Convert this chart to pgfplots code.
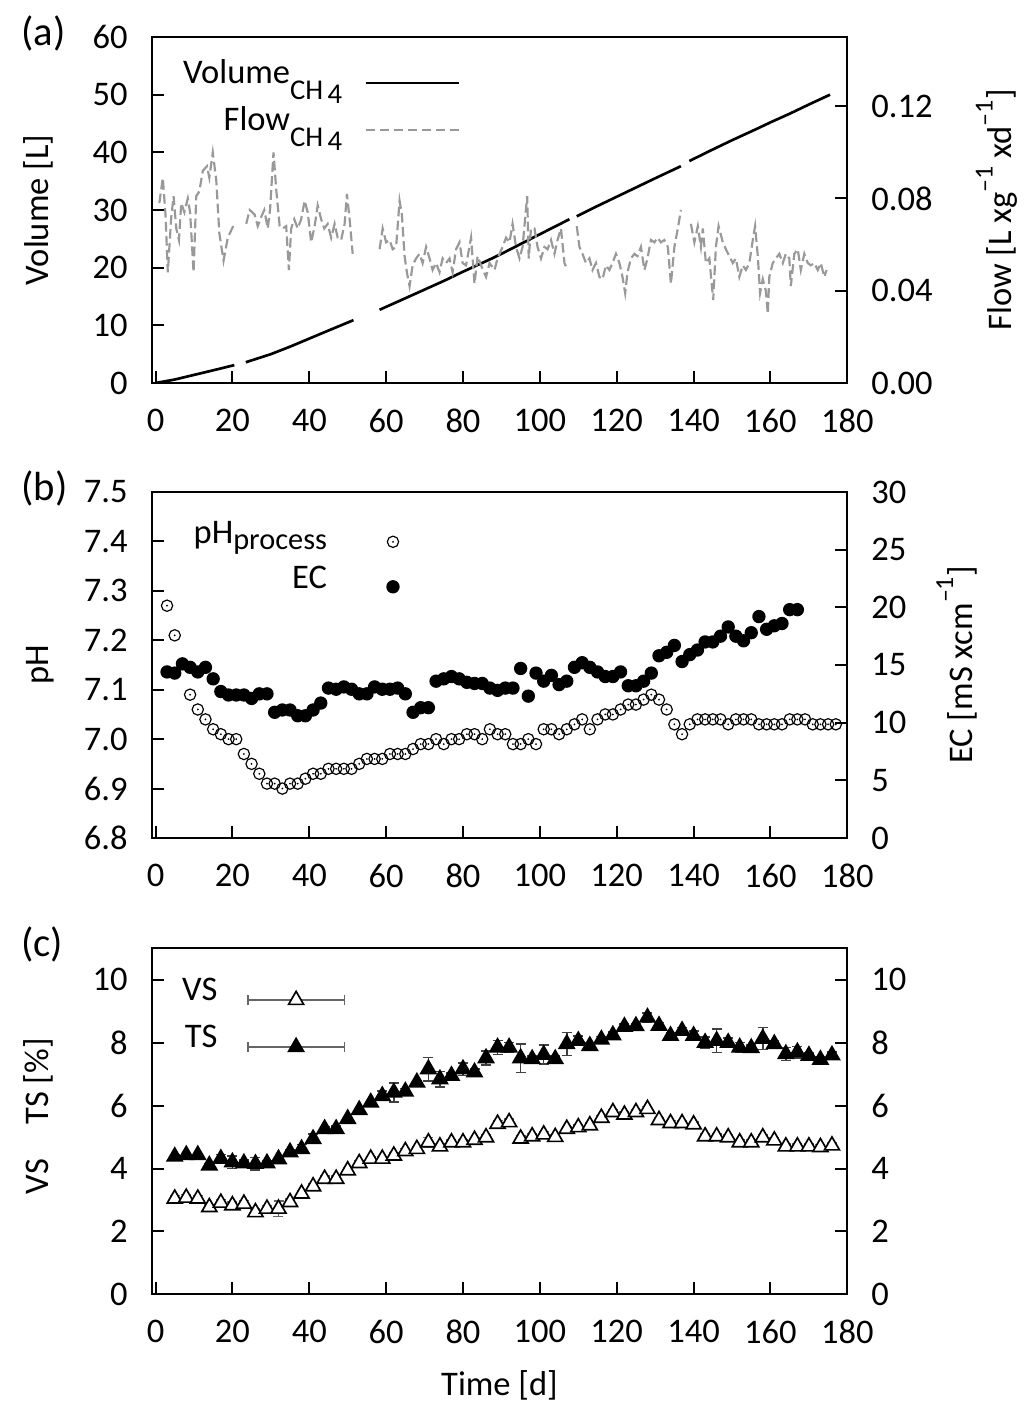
\documentclass[border=0pt]{standalone}
\usepackage{fontspec}
\setmainfont{Carlito}
\usepackage{pgfplots}
\usepackage{pgfplotstable}
\pgfplotsset{compat=1.18}

\pgfdeclareplotmark{odot}{%
  \pgfpathcircle{\pgfpointorigin}{\pgfplotmarksize}\pgfusepathqstroke
  \pgfpathcircle{\pgfpointorigin}{0.3pt}\pgfusepathqfill}

\newcommand\subA[1]{\raisebox{-4.7pt}{\fontsize{8.6}{10}\selectfont #1}}
\newcommand\subB[1]{\raisebox{-1.8pt}{\fontsize{9.1}{10}\selectfont #1}}
\newcommand\sups[1]{\raisebox{0.55em}{\fontsize{7.8}{9}\selectfont #1}}
\definecolor{flowgray}{gray}{0.6}

\pgfplotstableread{
d v
0 0
5 0.6
10 1.4
15 2.2
20.5 3.1
21.5 nan
23.5 3.6
30 5.0
35 6.3
40 7.7
45 9.1
51.5 10.9
53 nan
58.3 12.7
65 14.7
70 16.2
75 17.7
80 19.3
86.9 21.4
90 22.4
95 24.1
100 25.8
107.7 28.4
108.5 nan
109.6 28.9
115 30.7
120 32.3
125 33.9
130 35.5
136.7 37.6
137.5 nan
138.9 38.5
145 40.5
150 42.1
156.2 44.0
160 45.2
165 46.7
170 48.3
175.5 50.0
}\volume

\pgfplotstableread{
d f
1.0 0.078
1.9 0.089
2.6 0.073
3.2 0.048
4.1 0.072
4.7 0.081
5.4 0.067
6.1 0.062
6.7 0.078
7.5 0.074
8.4 0.080
9.0 0.074
9.9 0.048
10.6 0.081
11.4 0.083
12.3 0.092
13.4 0.094
14.0 0.089
14.9 0.100
15.8 0.088
16.6 0.065
17.7 0.053
18.8 0.063
20.5 0.069
21.5 nan
23.6 0.069
24.5 0.075
25.8 0.073
26.6 0.068
27.5 0.072
28.3 0.075
29.2 0.067
29.8 0.075
30.7 0.100
31.4 0.084
32.3 0.068
33.1 0.067
34.0 0.068
34.7 0.049
35.3 0.067
36.1 0.071
37.0 0.067
37.9 0.071
38.8 0.079
39.6 0.074
40.5 0.061
41.4 0.068
42.2 0.077
43.1 0.071
43.9 0.067
44.8 0.069
45.7 0.063
46.6 0.069
47.4 0.063
48.3 0.062
49.2 0.069
49.8 0.082
50.5 0.071
51.3 0.056
54 nan
58.3 0.058
59.1 0.067
60.0 0.061
60.9 0.062
61.7 0.058
62.6 0.059
63.5 0.079
64.1 0.073
64.8 0.055
65.4 0.048
66.1 0.042
66.9 0.051
67.8 0.054
68.7 0.056
69.5 0.052
70.4 0.059
71.3 0.054
72.1 0.049
73.0 0.052
73.9 0.048
74.7 0.054
75.6 0.052
76.5 0.054
77.3 0.048
78.2 0.058
79.1 0.061
79.9 0.052
80.8 0.051
82.1 0.063
83.0 0.043
83.8 0.055
84.7 0.051
86.0 0.046
86.9 0.052
88.2 0.049
89.0 0.054
90.3 0.059
91.2 0.063
92.1 0.061
92.9 0.069
93.8 0.059
94.7 0.054
95.5 0.059
96.7 0.081
97.1 0.054
97.7 0.067
98.6 0.067
99.4 0.059
100.3 0.054
101.2 0.059
102.0 0.058
102.9 0.062
103.8 0.056
104.6 0.062
105.5 0.067
106.4 0.052
107.2 0.049
108.3 nan
109.6 0.068
110.3 0.059
111.1 0.056
112.0 0.052
112.9 0.054
113.7 0.049
114.6 0.052
115.5 0.046
116.3 0.045
117.2 0.051
118.1 0.049
118.9 0.052
119.8 0.056
120.7 0.052
121.5 0.046
122.2 0.039
122.8 0.048
123.7 0.054
124.6 0.056
125.4 0.055
126.3 0.059
127.2 0.049
128.0 0.054
128.9 0.062
129.8 0.061
130.6 0.063
131.5 0.061
132.4 0.062
133.3 0.059
134.1 0.043
135.0 0.059
135.9 0.067
136.7 0.075
138.0 nan
139.3 0.069
140.2 0.061
141.1 0.068
141.9 0.059
142.4 0.067
143.2 0.052
144.1 0.054
145.1 0.036
145.8 0.059
146.5 0.068
147.6 0.061
148.4 0.058
149.3 0.055
150.2 0.052
151.0 0.054
151.9 0.046
152.8 0.051
153.6 0.049
154.5 0.052
155.4 0.062
156.0 0.068
156.7 0.055
157.3 0.039
158.0 0.045
158.8 0.040
159.3 0.030
159.7 0.046
160.6 0.052
161.4 0.054
162.3 0.056
163.2 0.052
164.0 0.056
164.9 0.054
165.3 0.042
166.2 0.056
167.1 0.058
167.9 0.049
168.8 0.056
169.7 0.052
170.5 0.051
171.4 0.052
172.3 0.049
173.1 0.052
174.0 0.046
174.6 0.049
}\flow

\pgfplotstableread{
d ph
3 7.27
5 7.21
9 7.09
11 7.06
13 7.04
15 7.02
17 7.01
19 7.00
21 7.00
23 6.97
25 6.95
27 6.93
29 6.91
31 6.91
33 6.90
35 6.91
37 6.91
39 6.92
41 6.93
43 6.93
45 6.94
47 6.94
49 6.94
51 6.94
53 6.95
55 6.96
57 6.96
59 6.96
61 6.97
63 6.97
65 6.97
67 6.98
69 6.99
71 6.99
73 7.00
75 6.99
77 7.00
79 7.00
81 7.01
83 7.01
85 7.00
87 7.02
89 7.01
91 7.01
93 6.99
95 6.99
97 7.00
99 6.99
101 7.02
103 7.02
105 7.01
107 7.02
109 7.03
111 7.04
113 7.02
115 7.04
117 7.05
119 7.05
121 7.06
123 7.07
125 7.07
127 7.08
129 7.09
131 7.08
133 7.06
135 7.03
137 7.01
139 7.03
141 7.04
143 7.04
145 7.04
147 7.04
149 7.03
151 7.04
153 7.04
155 7.04
157 7.03
159 7.03
161 7.03
163 7.03
165 7.04
167 7.04
169 7.04
171 7.03
173 7.03
175 7.03
177 7.03
}\phdata

\pgfplotstableread{
d ec
3 14.4
5 14.3
7 15.1
9 14.8
11 14.4
13 14.8
15 13.8
17 12.7
19 12.4
21 12.4
23 12.4
25 12.1
27 12.5
29 12.5
31 10.9
33 11.1
35 11.1
37 10.6
39 10.6
41 11.1
43 11.7
45 13.0
47 12.9
49 13.1
51 12.9
53 12.5
55 12.5
57 13.1
59 12.9
61 12.9
63 13.0
65 12.5
67 10.9
69 11.3
71 11.3
73 13.6
75 13.8
77 14.0
79 13.8
81 13.5
83 13.4
85 13.4
87 13.0
89 12.8
91 13.0
93 13.0
95 14.7
97 12.3
99 14.3
101 13.6
103 14.1
105 13.3
107 13.6
109 14.8
111 15.2
113 14.8
115 14.4
117 14.0
119 14.0
121 14.4
123 13.2
125 13.2
127 13.6
129 14.3
131 15.8
133 16.1
135 16.7
137 15.3
139 15.9
141 16.3
143 17.0
145 17.0
147 17.5
149 18.3
151 17.5
153 17.1
155 17.8
157 19.2
159 18.1
161 18.4
163 18.6
165 19.8
167 19.8
}\ecdata

\pgfplotstableread{
d vs ve ts te
5 3.04 0.10 4.38 0.05
8 3.07 0.10 4.43 0.05
11 3.04 0.10 4.43 0.05
14 2.77 0.08 4.10 0.05
17 2.91 0.10 4.31 0.14
20 2.83 0.10 4.20 0.20
23 2.88 0.10 4.17 0.10
26 2.61 0.10 4.15 0.20
29 2.72 0.10 4.17 0.08
32 2.72 0.25 4.30 0.05
35 2.93 0.10 4.52 0.08
38 3.20 0.10 4.62 0.15
41 3.43 0.08 4.94 0.15
44 3.67 0.10 5.26 0.08
47 3.67 0.10 5.26 0.10
50 3.94 0.08 5.58 0.05
53 4.17 0.08 5.86 0.05
56 4.31 0.08 6.10 0.05
59 4.31 0.08 6.31 0.15
62 4.41 0.10 6.42 0.30
65 4.55 0.08 6.45 0.10
68 4.62 0.08 6.74 0.05
71 4.83 0.15 7.16 0.37
74 4.70 0.10 6.84 0.25
77 4.83 0.08 6.95 0.08
80 4.83 0.08 7.16 0.20
83 4.91 0.08 7.06 0.10
86 4.99 0.08 7.51 0.22
89 5.42 0.10 7.85 0.22
92 5.47 0.10 7.85 0.15
95 4.95 0.08 7.51 0.45
98 5.02 0.10 7.48 0.10
101 5.08 0.10 7.62 0.30
104 5.00 0.08 7.48 0.10
107 5.26 0.08 7.96 0.36
110 5.31 0.08 8.06 0.15
113 5.37 0.08 7.90 0.10
116 5.61 0.08 8.10 0.10
119 5.79 0.08 8.24 0.10
122 5.71 0.08 8.51 0.08
125 5.79 0.08 8.53 0.08
128 5.89 0.08 8.80 0.15
131 5.54 0.08 8.54 0.10
134 5.44 0.08 8.22 0.10
137 5.44 0.08 8.38 0.10
140 5.40 0.08 8.22 0.15
143 5.02 0.08 8.00 0.18
146 5.02 0.08 8.06 0.37
149 4.99 0.08 8.00 0.15
152 4.83 0.08 7.85 0.15
155 4.83 0.08 7.83 0.10
158 4.99 0.08 8.13 0.35
161 4.89 0.08 7.96 0.10
164 4.70 0.08 7.64 0.20
167 4.70 0.08 7.70 0.18
170 4.70 0.08 7.59 0.08
173 4.68 0.08 7.46 0.08
176 4.73 0.08 7.60 0.10
}\solids

\pgfplotsset{
  panel/.style={
    scale only axis, width=208.7pt, height=103.8pt,
    xmin=-1, xmax=180, xtick={0,20,...,180},
    tick align=inside, major tick length=3.6pt, minor tick num=0,
    axis line style={line width=0.6pt},
    every tick/.append style={line width=0.6pt, black},
    every tick label/.append style={inner sep=0pt},
    /pgf/number format/assume math mode=true,
    scaled y ticks=false,
    every axis title/.style={at={(rel axis cs:-0.1883,0.976)}, anchor=base west, inner sep=0pt, font=\fontsize{12.2}{14}\selectfont},
  },
  leftax/.style={panel, xtick pos=left, ytick pos=left,
    xticklabel style={yshift=-7.6pt}, yticklabel style={xshift=-7pt},
    every axis y label/.style={at={(rel axis cs:-0.149,#1)}, rotate=90, anchor=base}},
  leftax/.default=0.5,
  rightax/.style={panel, xtick=\empty, ytick pos=right, yticklabel pos=right,
    yticklabel style={xshift=7pt},
    every axis y label/.style={at={(rel axis cs:#1,0.5)}, rotate=90, anchor=base}},
  rightax/.default=1.2,
  legline/.style={legend image code/.code={\draw[##1] (0pt,0pt) -- (28.1pt,0pt);}},
  legdot/.style={legend image code/.code={\path[draw=none,fill=none] (0pt,0pt) -- (25.8pt,0pt); \draw[##1] plot coordinates {(12.9pt,0pt)};}},
  legerr/.style={legend image code/.code={%
    \draw[black!60, line width=0.45pt, solid] (0pt,0pt) -- (29pt,0pt) (0pt,-1.5pt) -- (0pt,1.5pt) (29pt,-1.5pt) -- (29pt,1.5pt);
    \draw[##1] plot coordinates {(14.5pt,0pt)};}},
}

\begin{document}
\fontsize{10.35}{12.4}\selectfont
\begin{tikzpicture}
\useasboundingbox (0,0) rectangle (307.2pt,-423pt);

% ---------------- (a) ----------------
\begin{axis}[leftax, at={(45.5pt,-114.9pt)}, anchor=south west,
  ymin=0, ymax=60, ytick={0,10,...,60},
  ylabel={Volume [L]}, title={(a)},
  unbounded coords=jump,
  legend style={draw=none, fill=none, at={(rel axis cs:0.4444,0.9346)}, anchor=north east,
    inner sep=0pt, outer sep=0pt, column sep=6.7pt, row sep=0pt,
    nodes={inner sep=0pt, text height=7.2pt, text depth=6.9pt}},
  legend cell align=right, legend plot pos=right]
\addplot[black, line width=0.8pt, legline] table[x=d,y=v]{\volume};
\addlegendentry{Volume\subA{CH\hspace{0.15em}\raisebox{-1.4pt}{4}}}
\addlegendimage{flowgray, line width=0.65pt, dash pattern=on 2.9pt off 1.3pt, legline}
\addlegendentry{Flow\subA{CH\hspace{0.15em}\raisebox{-1.4pt}{4}}}
\end{axis}
\begin{axis}[rightax=1.236, at={(45.5pt,-114.9pt)}, anchor=south west,
  ymin=0, ymax=0.15, ytick={0,0.04,0.08,0.12},
  yticklabel style={/pgf/number format/fixed, /pgf/number format/fixed zerofill, /pgf/number format/precision=2},
  ylabel={Flow [L xg\sups{\textendash1} xd\sups{\textendash1}]},
  unbounded coords=jump]
\addplot[flowgray, line width=0.65pt, dash pattern=on 2.9pt off 1.3pt] table[x=d,y=f]{\flow};
\end{axis}

% ---------------- (b) ----------------
\begin{axis}[leftax, at={(45.5pt,-251.4pt)}, anchor=south west,
  ymin=6.8, ymax=7.5, ytick={6.8,6.9,7.0,7.1,7.2,7.3,7.4,7.5},
  yticklabel style={/pgf/number format/fixed, /pgf/number format/fixed zerofill, /pgf/number format/precision=1},
  ylabel={pH}, title={(b)},
  legend style={draw=none, fill=none, at={(rel axis cs:0.4087,0.9211)}, anchor=north east,
    inner sep=0pt, outer sep=0pt, column sep=6.9pt, row sep=0pt,
    nodes={inner sep=0pt, text height=7.2pt, text depth=6.3pt}},
  legend cell align=right, legend plot pos=right]
\addplot[only marks, mark=odot, mark size=1.7pt, black, line width=0.35pt, legdot] table[x=d,y=ph]{\phdata};
\addlegendentry{pH\subB{process}}
\addlegendimage{only marks, mark=*, mark size=1.8pt, black, legdot}
\addlegendentry{EC}
\end{axis}
\begin{axis}[rightax=1.1793, at={(45.5pt,-251.4pt)}, anchor=south west,
  ymin=0, ymax=30, ytick={0,5,...,30},
  ylabel={EC [mS xcm\sups{\textendash1}]}]
\addplot[only marks, mark=*, mark size=1.8pt, black] table[x=d,y=ec]{\ecdata};
\end{axis}

% ---------------- (c) ----------------
\begin{axis}[leftax=0.515, at={(45.5pt,-388.3pt)}, anchor=south west,
  ymin=0, ymax=11, ytick={0,2,...,10},
  ylabel={VS\hspace{1em}TS [\%]}, title={(c)},
  xlabel={Time [d]},
  every axis x label/.style={at={(rel axis cs:0.5,-0.293)}, anchor=base},
  legend style={draw=none, fill=none, at={(rel axis cs:0.2782,0.9185)}, anchor=north east,
    inner sep=0pt, outer sep=0pt, column sep=8.9pt, row sep=0pt,
    nodes={inner sep=0pt, text height=7.2pt, text depth=6.9pt}},
  legend cell align=right, legend plot pos=right]
\addplot[forget plot, only marks, black, mark=triangle*, mark size=2.6pt,
  mark options={fill=white, draw=black, line width=0.5pt, solid},
  error bars/.cd, y dir=both, y explicit,
  error bar style={black!60, line width=0.45pt},
  error mark options={rotate=90, mark size=1.5pt, black!60, line width=0.45pt}]
  table[x=d, y=vs, y error=ve]{\solids};
\addplot[forget plot, only marks, black, mark=triangle*, mark size=2.6pt,
  mark options={fill=black, draw=black, line width=0.5pt, solid},
  error bars/.cd, y dir=both, y explicit,
  error bar style={black!75, line width=0.45pt},
  error mark options={rotate=90, mark size=1.5pt, black!75, line width=0.45pt}]
  table[x=d, y=ts, y error=te]{\solids};
\addlegendimage{only marks, black, mark=triangle*, mark size=2.6pt, mark options={fill=white, draw=black, line width=0.5pt}, legerr}
\addlegendentry{VS}
\addlegendimage{only marks, black, mark=triangle*, mark size=2.6pt, mark options={fill=black, draw=black, line width=0.5pt}, legerr}
\addlegendentry{TS}
\end{axis}
\begin{axis}[rightax, at={(45.5pt,-388.3pt)}, anchor=south west,
  ymin=0, ymax=11, ytick={0,2,...,10}]
\end{axis}
\end{tikzpicture}
\end{document}
